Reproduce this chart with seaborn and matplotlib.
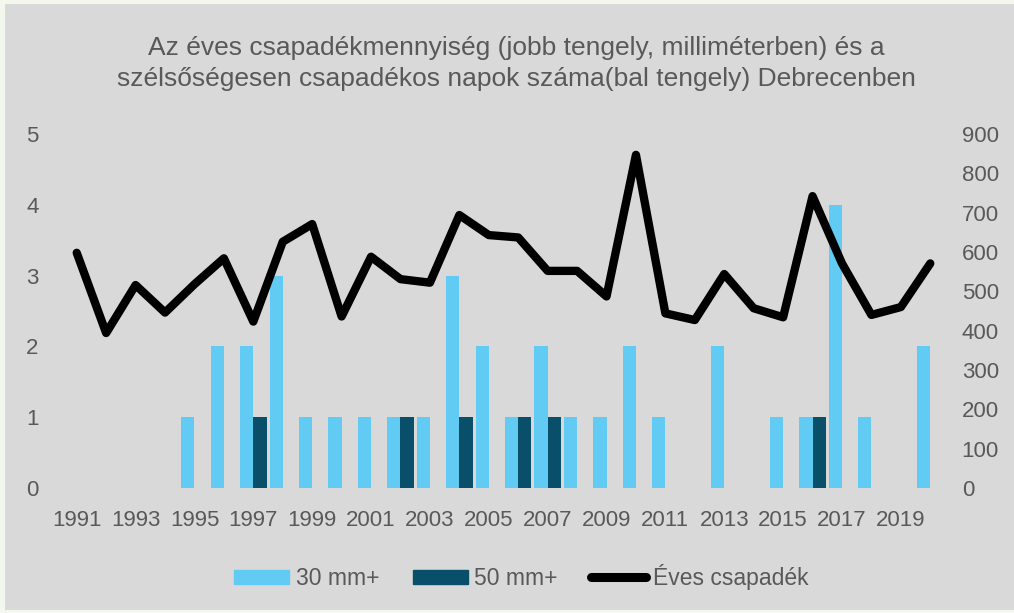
import numpy as np
import pandas as pd
import seaborn as sns
import matplotlib.pyplot as plt
from matplotlib.patches import Rectangle
from matplotlib.lines import Line2D

# data
years = list(range(1991, 2021))
days_30mm = [0, 0, 0, 0, 1, 2, 2, 3, 1, 1, 1, 1, 1, 3, 2,
             1, 2, 1, 1, 2, 1, 0, 2, 0, 1, 1, 4, 1, 0, 2]
days_50mm = [0, 0, 0, 0, 0, 0, 1, 0, 0, 0, 0, 1, 0, 1, 0,
             1, 1, 0, 0, 0, 0, 0, 0, 0, 0, 1, 0, 0, 0, 0]
precip_mm = [598, 394, 516, 446, 518, 584, 423, 626, 671, 436,
             588, 531, 522, 694, 643, 637, 552, 552, 487, 847,
             444, 427, 544, 457, 434, 742, 571, 440, 460, 571]

series_names = ['30 mm+', '50 mm+']
bar_colors = ['#61cbf3', '#0a4f69']
line_name = 'Éves csapadék'
title = ('Az éves csapadékmennyiség (jobb tengely, milliméterben) és a\n'
         'szélsőségesen csapadékos napok száma(bal tengely) Debrecenben')

# long format table for the bars
df = pd.DataFrame({
    'Year': [str(y) for y in years] * 2,
    'Days': days_30mm + days_50mm,
    'Series': [series_names[0]] * len(years) + [series_names[1]] * len(years),
})

sns.set_theme(style='white')
plt.rcParams['font.family'] = ['Liberation Sans', 'DejaVu Sans']
grey_txt = '#595959'

fig = plt.figure(figsize=(10.14, 6.13), dpi=100)
fig.patch.set_facecolor('#f4f7ee')
# grey chart area (thin light margin on the left/top like the screenshot)
fig.add_artist(Rectangle((5 / 1014, 3 / 613), 1 - 5 / 1014, 1 - 7 / 613,
                         transform=fig.transFigure, facecolor='#d9d9d9',
                         edgecolor='none', zorder=0))

ax = fig.add_axes([62 / 1014, 125 / 613, 883 / 1014, 354 / 613])
ax.set_facecolor('none')

sns.barplot(data=df, x='Year', y='Days', hue='Series', palette=bar_colors,
            width=0.9, saturation=1, ax=ax, legend=False,
            edgecolor='none', linewidth=0)

ax2 = ax.twinx()
ax2.set_facecolor('none')
sns.lineplot(x=np.arange(len(years)), y=precip_mm, ax=ax2, color='black',
             linewidth=6, solid_capstyle='round', solid_joinstyle='round')

ax.set_ylim(0, 5)
ax2.set_ylim(0, 900)
ax.set_xlim(-0.5, len(years) - 0.5)
ax.set_yticks(range(0, 6))
ax2.set_yticks(range(0, 1000, 100))
ax.set_xticks(range(0, len(years), 2))
ax.set_xticklabels([str(y) for y in years[::2]])

ax.set_xlabel('')
ax.set_ylabel('')
ax2.set_ylabel('')
for a in (ax, ax2):
    for s in a.spines.values():
        s.set_visible(False)
    a.grid(False)
ax.tick_params(axis='x', length=0, pad=16, labelsize=16, labelcolor=grey_txt)
ax.tick_params(axis='y', length=0, pad=17, labelsize=16, labelcolor=grey_txt)
ax2.tick_params(axis='y', length=0, pad=12, labelsize=16, labelcolor=grey_txt)

fig.text(0.509, 1 - 63.5 / 613, title, ha='center', va='center', fontsize=19,
         color=grey_txt, linespacing=1.42)

handles = [Rectangle((0, 0), 1, 1, color=bar_colors[0]),
           Rectangle((0, 0), 1, 1, color=bar_colors[1]),
           Line2D([], [], color='black', linewidth=6.5, solid_capstyle='round')]
fig.legend(handles, series_names + [line_name], loc='center',
           bbox_to_anchor=(0.514, 1 - 577 / 613), ncol=3, frameon=False,
           fontsize=16.5, labelcolor=grey_txt, handlelength=2.4,
           handleheight=0.57, handletextpad=0.3, columnspacing=1.45)

fig.savefig('out.png', dpi=100, facecolor=fig.get_facecolor())
